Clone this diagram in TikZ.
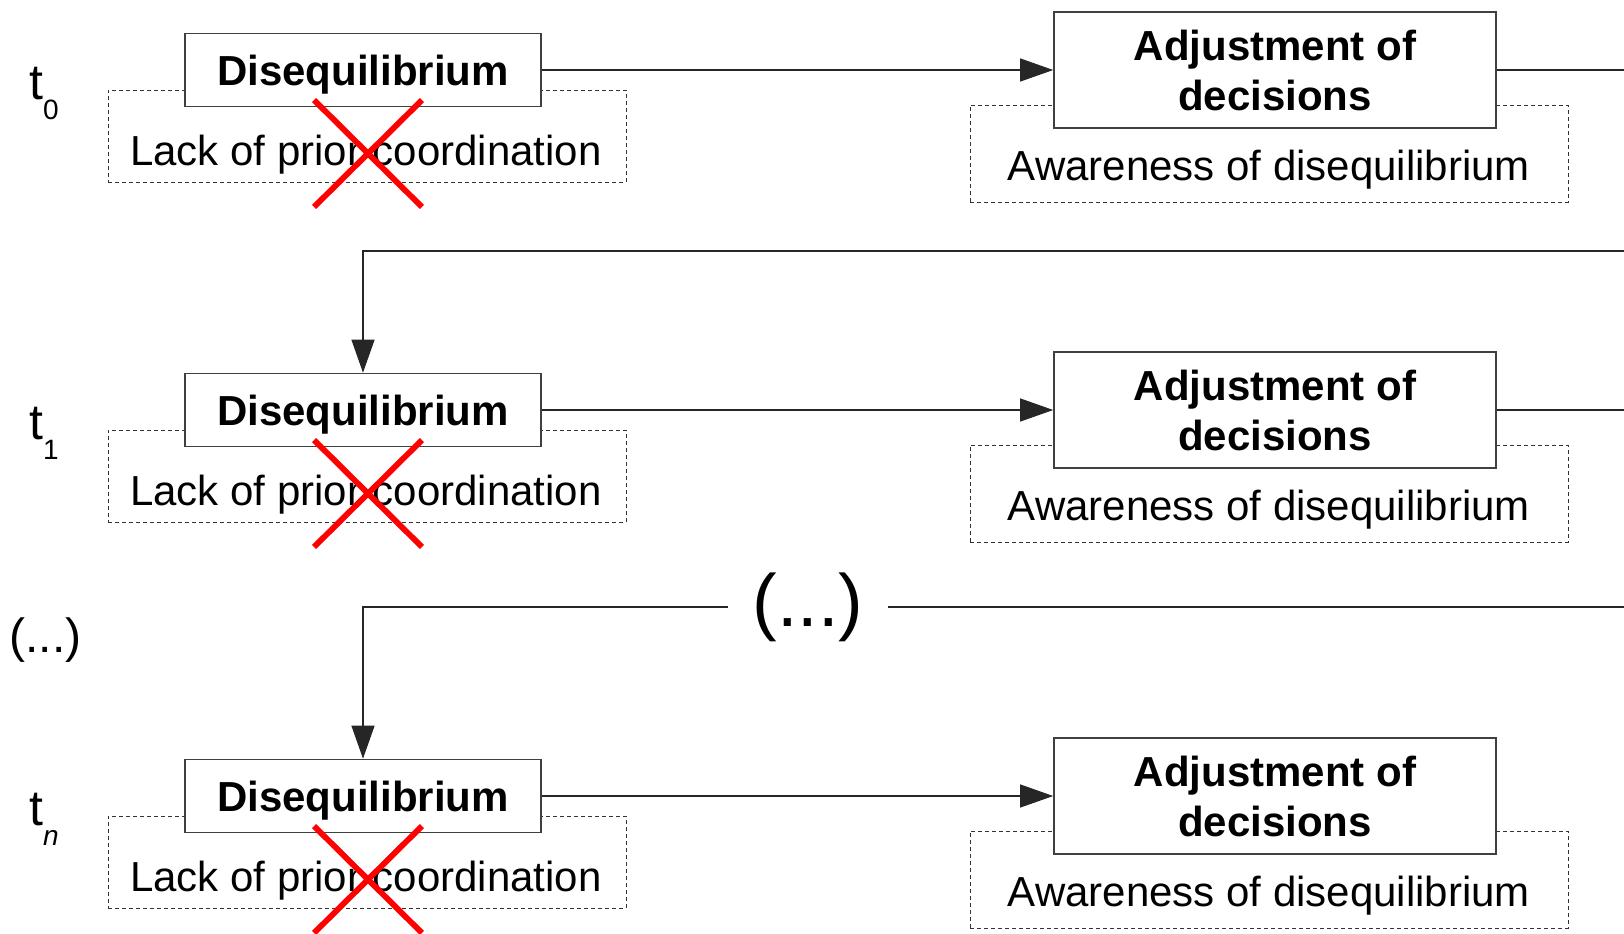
\documentclass[tikz,border=0pt]{standalone}
\usepackage{fontspec}
\setmainfont{Liberation Sans}
\usetikzlibrary{arrows.meta,shapes.misc}
\tikzset{>={Triangle[length=16.5pt,width=11.5pt]}}

\begin{document}
\begin{tikzpicture}[x=0.5pt, y=-0.5pt, text centered]
    \tikzset{%
      box/.style={draw=black!75, line width=0.8pt, fill=white, inner sep=0pt,
        font=\bfseries\fontsize{21}{25}\selectfont},
      disbox/.style={box, minimum width=178pt, minimum height=36.5pt, text depth=0pt},
      adjbox/.style={box, minimum width=221pt, minimum height=58pt, align=center},
      hintbox/.style={draw=black!80, line width=0.5pt, dash pattern=on 2pt off 1.5pt},
      lackbox/.style={hintbox, minimum width=259pt, minimum height=46pt},
      awarebox/.style={hintbox, minimum width=299pt, minimum height=48.5pt},
      hint/.style={font=\fontsize{21}{25}\selectfont},
      cross/.style={cross out, draw=red, line width=2.9pt, inner sep=0pt,
        minimum width=51pt, minimum height=50.5pt},
      flow/.style={draw=black!85, line width=0.55pt},
      tlabel/.style={inner sep=0pt, font=\fontsize{25}{28}\selectfont}
      }
    \useasboundingbox (0,0) rectangle (1624,933);
    \clip (0,0) rectangle (1624,933);

    % t_0
    \node [tlabel] (T0) at (44,93) {t\raisebox{-10pt}{\fontsize{14}{16}\selectfont 0}};
    \node [lackbox] (Lack0) at (367,136) {};
    \node [hint] (LackT0) at (366,155) {Lack of prior coordination};
    \node [awarebox] (Aware0) at (1269,153.5) {};
    \node [hint] (AwareT0) at (1269,170) {Awareness of disequilibrium};
    \node [disbox] (Dis0) at (363,70) {Disequilibrium};
    \node [adjbox] (Adj0) at (1275,70) {Adjustment of\\decisions};
    \node [cross] (Cross0) at (368,153.5) {};
    \draw [flow, ->] (Dis0.east) -- (Adj0.west);

    % t_1
    \node [tlabel] (T1) at (44,433) {t\raisebox{-10pt}{\fontsize{14}{16}\selectfont 1}};
    \node [lackbox] (Lack1) at (367,476) {};
    \node [hint] (LackT1) at (366,495) {Lack of prior coordination};
    \node [awarebox] (Aware1) at (1269,493.5) {};
    \node [hint] (AwareT1) at (1269,510) {Awareness of disequilibrium};
    \node [disbox] (Dis1) at (363,410) {Disequilibrium};
    \node [adjbox] (Adj1) at (1275,410) {Adjustment of\\decisions};
    \node [cross] (Cross1) at (368,493.5) {};
    \draw [flow, ->] (Dis1.east) -- (Adj1.west);
    \coordinate (Back1) at (363,251);
    \draw [flow, ->] (Adj0.east) -- ++(150,0) |- (Back1) -- (Dis1.north);

    % (...)
    \node [tlabel, font=\fontsize{24}{28}\selectfont] (Etc) at (45.5,640) {(...)};
    \node [inner sep=0pt, minimum width=79.5pt, font=\fontsize{37}{40}\selectfont] (Dots) at (808,607) {(...)};
    \draw [flow] (Adj1.east) -- ++(150,0) |- (Dots.east);

    % t_n
    \node [tlabel] (Tn) at (44,819) {t\raisebox{-10pt}{\fontsize{14}{16}\selectfont\itshape n}};
    \node [lackbox] (Lackn) at (367,862) {};
    \node [hint] (LackTn) at (366,881) {Lack of prior coordination};
    \node [awarebox] (Awaren) at (1269,879.5) {};
    \node [hint] (AwareTn) at (1269,896) {Awareness of disequilibrium};
    \node [disbox] (Disn) at (363,796) {Disequilibrium};
    \node [adjbox] (Adjn) at (1275,796) {Adjustment of\\decisions};
    \node [cross] (Crossn) at (368,879.5) {};
    \draw [flow, ->] (Disn.east) -- (Adjn.west);
    \draw [flow, ->] (Dots.west) -| (Disn.north);

  \end{tikzpicture}
\end{document}
